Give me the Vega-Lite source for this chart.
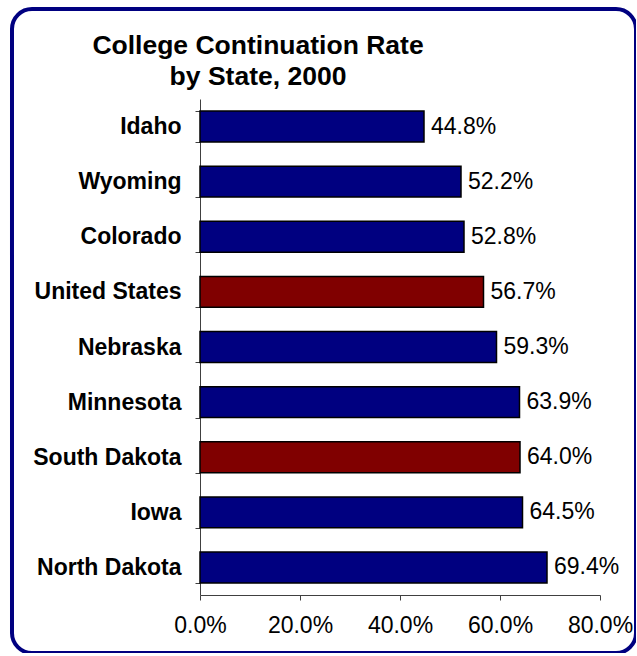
{
  "$schema": "https://vega.github.io/schema/vega-lite/v6.json",
  "width": 624,
  "height": 644,
  "autosize": {"type": "none"},
  "padding": {"left": 12, "top": 9, "right": 0, "bottom": 0},
  "background": "white",
  "config": {"font": "Liberation Sans"},
  "view": {"stroke": "#000080", "strokeWidth": 4, "cornerRadius": 20, "fill": "white"},
  "title": {
    "text": ["College Continuation Rate", "by State, 2000"],
    "font": "Liberation Sans",
    "fontSize": 26.5,
    "fontWeight": "bold",
    "color": "black",
    "anchor": "middle",
    "frame": "group",
    "baseline": "top",
    "offset": -92,
    "dx": -66,
    "lineHeight": 31
  },
  "data": {
    "values": [
      {"state": "Idaho", "rate": 0.448, "hl": "n"},
      {"state": "Wyoming", "rate": 0.522, "hl": "n"},
      {"state": "Colorado", "rate": 0.528, "hl": "n"},
      {"state": "United States", "rate": 0.567, "hl": "y"},
      {"state": "Nebraska", "rate": 0.593, "hl": "n"},
      {"state": "Minnesota", "rate": 0.639, "hl": "n"},
      {"state": "South Dakota", "rate": 0.640, "hl": "y"},
      {"state": "Iowa", "rate": 0.645, "hl": "n"},
      {"state": "North Dakota", "rate": 0.694, "hl": "n"}
    ]
  },
  "layer": [
    {
      "mark": {"type": "bar", "stroke": "black", "strokeWidth": 1.5},
      "encoding": {
        "y": {
          "field": "state",
          "type": "nominal",
          "sort": null,
          "scale": {"range": [90, 586], "paddingInner": 0.44, "paddingOuter": 0.22},
          "axis": {
            "title": null,
            "offset": -188,
            "domainColor": "#404040",
            "domainWidth": 1,
            "tickColor": "#404040",
            "tickSize": 5,
            "tickBand": "extent",
            "labelFont": "Liberation Sans",
            "labelFontSize": 23,
            "labelFontWeight": "bold",
            "labelColor": "black",
            "labelPadding": 14,
            "grid": false
          }
        },
        "x": {
          "field": "rate",
          "type": "quantitative",
          "scale": {"domain": [0, 0.8], "range": [188, 588], "nice": false, "zero": true},
          "axis": {
            "title": null,
            "format": ".1%",
            "values": [0, 0.2, 0.4, 0.6, 0.8],
            "offset": -58,
            "tickSize": 5,
            "labelFont": "Liberation Sans",
            "labelFontSize": 23,
            "labelPadding": 14,
            "labelColor": "black",
            "labelFlush": false,
            "labelOverlap": false,
            "grid": false,
            "domainColor": "#404040",
            "tickColor": "#404040"
          }
        },
        "color": {
          "field": "hl",
          "type": "nominal",
          "scale": {"domain": ["n", "y"], "range": ["#000080", "#800000"]},
          "legend": null
        }
      }
    },
    {
      "mark": {"type": "text", "align": "left", "baseline": "middle", "dx": 7, "font": "Liberation Sans", "fontSize": 23, "color": "black"},
      "encoding": {
        "y": {"field": "state", "type": "nominal", "sort": null},
        "x": {"field": "rate", "type": "quantitative"},
        "text": {"field": "rate", "type": "quantitative", "format": ".1%"}
      }
    }
  ]
}
